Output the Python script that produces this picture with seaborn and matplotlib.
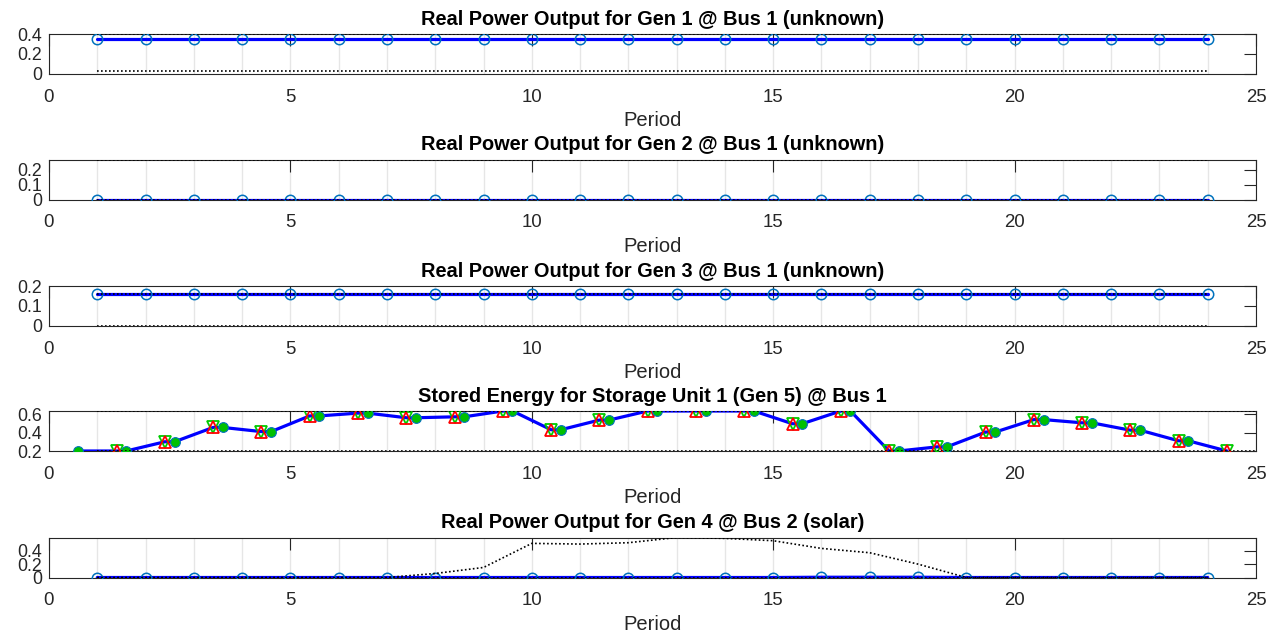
import numpy as np
import pandas as pd
import matplotlib
matplotlib.use('Agg')
import matplotlib.pyplot as plt
import seaborn as sns
from matplotlib.ticker import MultipleLocator

# ---------------------------------------------------------------------------
# Data
# ---------------------------------------------------------------------------
periods = list(range(1, 25))

gen1_output = [0.35, 0.35, 0.35, 0.35, 0.35, 0.35, 0.35, 0.35, 0.35, 0.35, 0.35, 0.35,
               0.35, 0.35, 0.35, 0.35, 0.35, 0.35, 0.35, 0.35, 0.35, 0.35, 0.35, 0.35]
gen1_min, gen1_max = 0.033, 0.40

gen2_output = [0.0, 0.0, 0.0, 0.0, 0.0, 0.0, 0.0, 0.0, 0.0, 0.0, 0.0, 0.0,
               0.0, 0.0, 0.0, 0.0, 0.0, 0.0, 0.0, 0.0, 0.0, 0.0, 0.0, 0.0]
gen2_min, gen2_max = 0.0, 0.267

gen3_output = [0.16, 0.16, 0.16, 0.16, 0.16, 0.16, 0.16, 0.16, 0.16, 0.16, 0.16, 0.16,
               0.16, 0.16, 0.16, 0.16, 0.16, 0.16, 0.16, 0.16, 0.16, 0.16, 0.16, 0.16]
gen3_min, gen3_max = 0.0, 0.16

# stored energy at period boundaries (initial value + end of each period)
storage_energy = [0.20, 0.20, 0.30, 0.455, 0.41, 0.58, 0.61, 0.56, 0.57, 0.633,
                  0.43, 0.535, 0.633, 0.633, 0.633, 0.495, 0.633, 0.20, 0.245,
                  0.405, 0.54, 0.505, 0.425, 0.31, 0.20]
storage_min, storage_max = 0.20, 0.633

gen4_output = [0.0, 0.0, 0.0, 0.0, 0.0, 0.0, 0.0, 0.0, 0.0, 0.0, 0.0, 0.0,
               0.0, 0.0, 0.0, 0.004, 0.004, 0.004, 0.0, 0.0, 0.0, 0.0, 0.0, 0.0]
gen4_available = [0.0, 0.0, 0.0, 0.0, 0.0, 0.0, 0.0, 0.06, 0.15, 0.51, 0.50, 0.52,
                  0.598, 0.585, 0.55, 0.435, 0.37, 0.20, 0.0, 0.0, 0.0, 0.0, 0.0, 0.0]
gen4_min = 0.0

titles = [
    'Real Power Output for Gen 1 @ Bus 1 (unknown)',
    'Real Power Output for Gen 2 @ Bus 1 (unknown)',
    'Real Power Output for Gen 3 @ Bus 1 (unknown)',
    'Stored Energy for Storage Unit 1 (Gen 5) @ Bus 1',
    'Real Power Output for Gen 4 @ Bus 2 (solar)',
]

# ---------------------------------------------------------------------------
# Style
# ---------------------------------------------------------------------------
sns.set_theme(style='white')
plt.rcParams['font.family'] = ['Liberation Sans', 'DejaVu Sans']

LINE_BLUE = '#0000FF'
MARK_BLUE = '#0072BD'
AX_GRAY = '#262626'
DOT = (0, (1, 1.4))

fig = plt.figure(figsize=(12.7, 6.34), dpi=100)
fig.patch.set_facecolor('white')

left, width, height = 49 / 1270, 1207 / 1270, 40 / 634
bottoms_px = [74, 199.5, 326, 451, 577.5]
axes = [fig.add_axes([left, (634 - b) / 634, width, height]) for b in bottoms_px]


def style_axes(ax, title, ylim, yticks, yticklabels):
    ax.set_xlim(0, 25)
    ax.set_ylim(*ylim)
    ax.set_xticks([0, 5, 10, 15, 20, 25])
    ax.xaxis.set_minor_locator(MultipleLocator(1))
    ax.set_yticks(yticks)
    ax.set_yticklabels(yticklabels)
    ax.grid(True, axis='x', which='both', color='#e6e6e6', linewidth=1)
    ax.grid(False, axis='y')
    ax.set_axisbelow(True)
    ax.tick_params(axis='both', which='major', direction='in', length=8.6, width=0.8,
                   color=AX_GRAY, labelcolor=AX_GRAY, labelsize=13.4,
                   top=True, right=True)
    ax.tick_params(axis='x', which='major', pad=10.5)
    ax.tick_params(axis='y', which='major', pad=5, labelsize=12.8)
    ax.tick_params(axis='both', which='minor', length=0)
    for sp in ax.spines.values():
        sp.set_color(AX_GRAY)
        sp.set_linewidth(0.8)
        sp.set_visible(True)
    ax.set_xlabel('Period', fontsize=14.5, color=AX_GRAY, labelpad=4)
    ax.set_ylabel('')
    ax.set_title(title, fontsize=14.4, fontweight='bold', color='black', pad=6.5)
    ax.set_facecolor('white')


def gen_panel(ax, output, lo, hi, avail=None):
    df = pd.DataFrame({'Period': periods, 'P': output})
    sns.lineplot(data=df, x='Period', y='P', ax=ax, color=LINE_BLUE, linewidth=2.3,
                 zorder=3)
    sns.lineplot(data=df, x='Period', y='P', ax=ax, linestyle='none', marker='o',
                 ms=7.5, mfc='none', mec=MARK_BLUE, mew=1.1, zorder=4)
    if avail is not None:
        top = pd.DataFrame({'Period': periods, 'P': avail})
    else:
        top = pd.DataFrame({'Period': periods, 'P': [hi] * len(periods)})
    bot = pd.DataFrame({'Period': periods, 'P': [lo] * len(periods)})
    for d in (top, bot):
        sns.lineplot(data=d, x='Period', y='P', ax=ax, color='black', linewidth=1.2,
                     linestyle=DOT, zorder=5)


gen_panel(axes[0], gen1_output, gen1_min, gen1_max)
style_axes(axes[0], titles[0], (0, 0.4), [0, 0.2, 0.4], ['0', '0.2', '0.4'])

gen_panel(axes[1], gen2_output, gen2_min, gen2_max)
style_axes(axes[1], titles[1], (0, 0.267), [0, 0.1, 0.2], ['0', '0.1', '0.2'])

gen_panel(axes[2], gen3_output, gen3_min, gen3_max)
style_axes(axes[2], titles[2], (0, 0.2), [0, 0.1, 0.2], ['0', '0.1', '0.2'])

# storage panel: start-of-period value left of the period, end value right of it
half = 0.4
start_x = [p - half for p in periods]
end_x = [p + half for p in periods]
start_e = storage_energy[:-1]
end_e = storage_energy[1:]
path = pd.DataFrame({
    'x': [v for pair in zip(start_x, end_x) for v in pair],
    'E': [v for pair in zip(start_e, end_e) for v in pair],
})
ax = axes[3]
sns.lineplot(data=path, x='x', y='E', ax=ax, color=LINE_BLUE, linewidth=2.3, zorder=3)
sns.lineplot(x=end_x, y=end_e, ax=ax, linestyle='none', marker='v', ms=8,
             mfc='none', mec='#00CC00', mew=1.3, zorder=4)
sns.lineplot(x=end_x, y=end_e, ax=ax, linestyle='none', marker='^', ms=8,
             mfc='none', mec='#FF0000', mew=1.3, zorder=4)
sns.lineplot(x=start_x, y=start_e, ax=ax, linestyle='none', marker='o', ms=7,
             mfc='#00C000', mec=MARK_BLUE, mew=0.8, zorder=4)
lim_x = [1, 25]
for lv in (storage_min, storage_max):
    sns.lineplot(x=lim_x, y=[lv, lv], ax=ax, color='black', linewidth=1.2,
                 linestyle=DOT, zorder=5)
style_axes(ax, titles[3], (0.2, 0.633), [0.2, 0.4, 0.6], ['0.2', '0.4', '0.6'])

gen_panel(axes[4], gen4_output, gen4_min, None, avail=gen4_available)
style_axes(axes[4], titles[4], (0, 0.598), [0, 0.2, 0.4], ['0', '0.2', '0.4'])

fig.savefig('out.png', dpi=100, facecolor='white')
